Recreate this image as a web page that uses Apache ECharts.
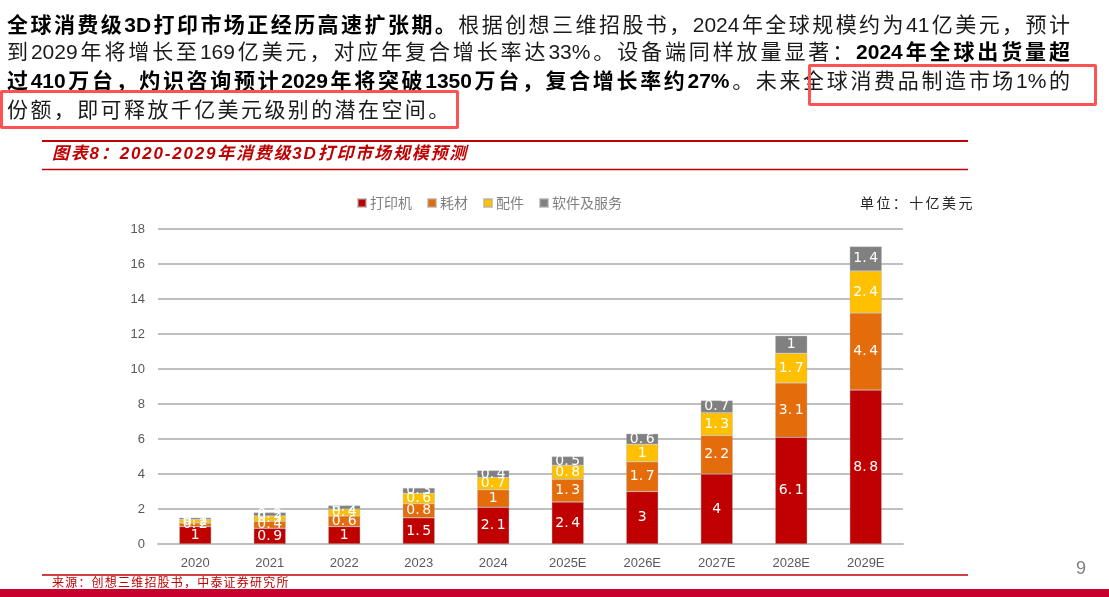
<!DOCTYPE html>
<html>
<head>
<meta charset="utf-8">
<script src="https://cdn.jsdelivr.net/npm/echarts@6/dist/echarts.min.js"></script>
<style>
  html, body { margin: 0; padding: 0; background: #fff; }
  #page { position: relative; width: 1109px; height: 597px; overflow: hidden; }
  #chart { position: absolute; left: 0; top: 0; width: 1109px; height: 597px; }
  .line {
    position: absolute; left: 7px; width: 1063px; height: 28px; line-height: 28px;
    font-family: 'Liberation Sans', 'Noto Sans CJK SC', sans-serif;
    font-size: 21px; color: #1a1a1a; white-space: nowrap;
    text-align: justify; text-align-last: justify; z-index: 2;
  }
  .line b { color: #000; font-weight: 700; }
  .box { position: absolute; border: 3px solid #ff5252; border-radius: 2px; box-sizing: border-box; z-index: 3; }
  .txt { position: absolute; white-space: nowrap; z-index: 2; font-family: 'Liberation Sans', 'Noto Sans CJK SC', sans-serif; }
</style>
</head>
<body>
<div id="page">
  <div id="chart"></div>
  <div class="line" style="top:11px"><b>全球消费级3D打印市场正经历高速扩张期。</b>根据创想三维招股书，2024年全球规模约为41亿美元，预计</div>
  <div class="line" style="top:38px">到2029年将增长至169亿美元，对应年复合增长率达33%。设备端同样放量显著：<b>2024年全球出货量超</b></div>
  <div class="line" style="top:67px"><b>过410万台，灼识咨询预计2029年将突破1350万台，复合增长率约27%</b>。未来全球消费品制造市场1%的</div>
  <div class="line" style="top:96px;width:auto;text-align:left;text-align-last:auto;letter-spacing:2.4px">份额，即可释放千亿美元级别的潜在空间。</div>
  <div class="box" style="left:808px;top:64px;width:289px;height:42px"></div>
  <div class="box" style="left:0px;top:90px;width:459px;height:39px"></div>
  <div class="txt" style="left:52px;top:143px;font-size:17px;line-height:22px;font-weight:bold;font-style:italic;color:#c00000;letter-spacing:1.8px">图表8：2020-2029年消费级3D打印市场规模预测</div>
  <div class="txt" style="left:860px;top:194px;font-size:14px;line-height:18px;color:#262626;letter-spacing:2.4px">单位：十亿美元</div>
  <div class="txt" style="left:52px;top:576px;font-size:12px;line-height:15px;color:#c00000;letter-spacing:1.2px">来源：创想三维招股书，中泰证券研究所</div>
</div>
<script>
var categories = ['2020', '2021', '2022', '2023', '2024', '2025E', '2026E', '2027E', '2028E', '2029E'];
var seriesNames = ['打印机', '耗材', '配件', '软件及服务'];
var printers = [1, 0.9, 1, 1.5, 2.1, 2.4, 3, 4, 6.1, 8.8];
var materials = [0.2, 0.4, 0.6, 0.8, 1, 1.3, 1.7, 2.2, 3.1, 4.4];
var parts = [0.2, 0.3, 0.4, 0.6, 0.7, 0.8, 1, 1.3, 1.7, 2.4];
var software = [0.1, 0.2, 0.2, 0.3, 0.4, 0.5, 0.6, 0.7, 1, 1.4];
var colors = ['#c00000', '#e46c0a', '#ffc000', '#808080'];

var chart = echarts.init(document.getElementById('chart'));

function bar(name, data, color) {
    return {
        name: name,
        type: 'bar',
        stack: 'total',
        barWidth: 32,
        data: data,
        itemStyle: { color: color, borderColor: 'rgba(170,170,170,0.6)', borderWidth: 0.6 },
        label: {
            show: true,
            position: 'inside',
            color: '#fff',
            fontSize: 14,
            fontFamily: 'DejaVu Sans',
            formatter: function (p) { return String(p.value).replace('.', '.\u2009'); }
        }
    };
}

var option = {
    animation: false,
    color: colors,
    textStyle: { fontFamily: 'Liberation Sans, Noto Sans CJK SC' },
    legend: {
        top: 191,
        left: 352,
        itemWidth: 8,
        itemHeight: 8,
        itemGap: 15,
        icon: 'rect',
        textStyle: { color: '#7f7f7f', fontSize: 14, fontFamily: 'Noto Sans CJK SC', padding: [0, 0, 0, -1] },
        data: seriesNames
    },
    grid: { left: 158, right: 206, top: 229, bottom: 53 },
    xAxis: {
        type: 'category',
        data: categories,
        axisLine: { lineStyle: { color: '#bfbfbf', width: 2 } },
        axisTick: { show: false },
        axisLabel: { color: '#595959', fontSize: 13, margin: 13 }
    },
    yAxis: {
        type: 'value',
        min: 0,
        max: 18,
        interval: 2,
        axisLine: { show: false },
        axisTick: { show: false },
        axisLabel: { color: '#595959', fontSize: 13, margin: 13 },
        splitLine: { lineStyle: { color: '#bfbfbf', width: 2 } }
    },
    series: [
        bar(seriesNames[0], printers, colors[0]),
        bar(seriesNames[1], materials, colors[1]),
        bar(seriesNames[2], parts, colors[2]),
        bar(seriesNames[3], software, colors[3])
    ],
    graphic: [
        { type: 'line', shape: { x1: 42, y1: 141, x2: 968, y2: 141 }, style: { stroke: '#c00000', lineWidth: 2 } },
        { type: 'line', shape: { x1: 42, y1: 169.5, x2: 968, y2: 169.5 }, style: { stroke: '#c00000', lineWidth: 1.5 } },
        { type: 'line', shape: { x1: 42, y1: 575, x2: 968, y2: 575 }, style: { stroke: '#c00000', lineWidth: 1.5 } },
        {
            type: 'text', left: 1076, top: 560,
            style: { text: '9', fill: '#7f7f7f', font: '18px "Liberation Sans"' }
        },
        { type: 'rect', shape: { x: 0, y: 589, width: 1109, height: 8 }, style: { fill: '#c8002e' } }
    ]
};

chart.setOption(option);

window.onresize = chart.resize;
</script>
</body>
</html>
